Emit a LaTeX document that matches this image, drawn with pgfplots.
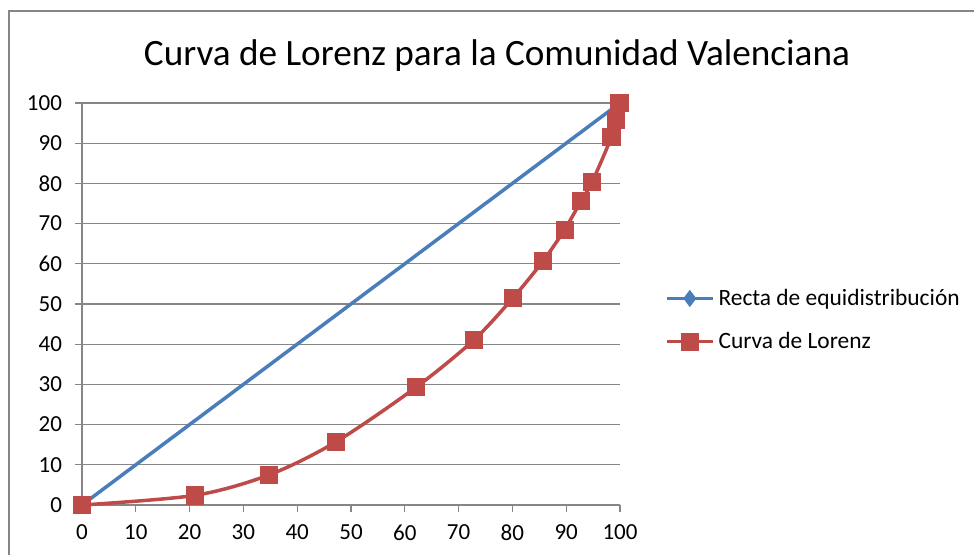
\documentclass[border=0pt]{standalone}
\usepackage{fontspec}
\setmainfont{Carlito}
\usepackage{pgfplots}
\pgfplotsset{compat=1.18}
\definecolor{eblue}{HTML}{4A7EBB}
\definecolor{ered}{HTML}{BE4B48}
\definecolor{egray}{HTML}{868686}
\begin{document}
\begin{tikzpicture}[x=0.5pt,y=0.5pt]
\useasboundingbox (0,0) rectangle (974,555);
\draw[egray, line width=1pt] (9,-20) -- (9,544) -- (990,544);
\node[font=\fontsize{18.6}{21}\selectfont] at (497,499) {Curva de Lorenz para la Comunidad Valenciana};
\begin{axis}[
  at={(41pt,25pt)}, anchor=south west,
  scale only axis, width=269pt, height=201pt,
  xmin=0, xmax=100, ymin=0, ymax=100,
  xtick={0,10,...,100}, ytick={0,10,...,100},
  axis x line*=bottom, axis y line*=left,
  axis line style={egray, line width=0.6pt},
  tick style={egray, line width=0.6pt},
  tick align=outside, major tick length=3.5pt,
  ymajorgrids, grid style={egray, line width=0.6pt},
  tick label style={font=\fontsize{11.5}{13}\selectfont},
  xticklabel style={yshift=-3pt},
  yticklabel style={xshift=-3pt},
  /pgf/number format/assume math mode=true,
  clip=false,
  legend style={at={(1.083,0.46)}, anchor=west, draw=none, fill=none,
    font=\fontsize{11.7}{13}\selectfont, row sep=8pt, inner sep=0pt},
  legend cell align=left,
  legend image code/.code={\draw[mark repeat=2,mark phase=2] plot coordinates {(0pt,0pt) (11.5pt,0pt) (23pt,0pt)};},
]
\addplot[eblue, line width=1.75pt, mark=diamond*, mark size=4pt, mark options={fill=eblue, solid, line width=0.4pt}]
  coordinates {(0,0) (100,100)};
\addlegendentry{Recta de equidistribución}
\addplot[ered, line width=1.75pt, smooth, tension=0.5, mark=square*, mark size=4.3pt, mark options={fill=ered, solid, line width=0.4pt}]
  coordinates {
  (0,0) (21.0,2.4) (34.8,7.5) (47.2,15.7) (62.1,29.3) (72.8,41.0)
  (80.1,51.5) (85.7,60.7) (89.7,68.5) (92.8,75.7) (94.8,80.3)
  (98.4,91.5) (99.2,95.7) (99.9,100)
  };
\addlegendentry{Curva de Lorenz}
\end{axis}
\end{tikzpicture}
\end{document}
